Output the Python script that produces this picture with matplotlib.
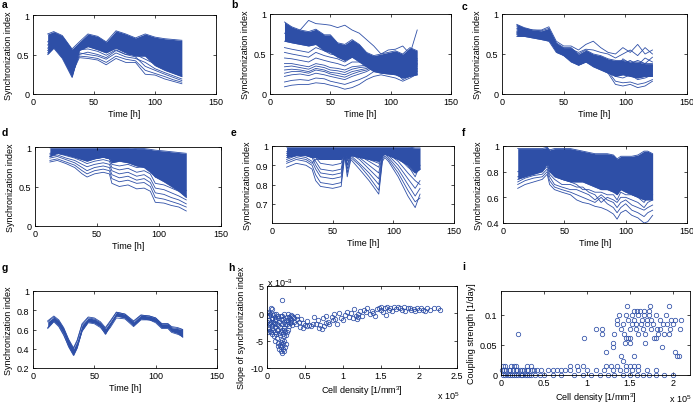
import matplotlib
matplotlib.use('Agg')
import matplotlib.pyplot as plt

plt.rcParams['font.family'] = ['Liberation Sans', 'DejaVu Sans']
plt.rcParams['mathtext.fontset'] = 'custom'
plt.rcParams['mathtext.rm'] = 'Liberation Sans'
plt.rcParams['mathtext.it'] = 'Liberation Sans:italic'
plt.rcParams['mathtext.bf'] = 'Liberation Sans:bold'

BLUE = '#2e4fa7'

# ---------------- panel a ----------------
t_a = [12, 17, 24, 32, 38, 45, 53, 60, 68, 76, 84, 92, 100, 108, 115, 122]
a_hi = [0.76, 0.79, 0.74, 0.57, 0.66, 0.76, 0.73, 0.66, 0.80, 0.76, 0.71, 0.76, 0.72, 0.70, 0.69, 0.68]
a_lo = [0.50, 0.58, 0.45, 0.21, 0.55, 0.60, 0.56, 0.52, 0.58, 0.52, 0.48, 0.48, 0.36, 0.30, 0.26, 0.22]
a_lines = [
    [0.62, 0.70, 0.60, 0.36, 0.52, 0.50, 0.48, 0.44, 0.52, 0.47, 0.45, 0.40, 0.32, 0.27, 0.23, 0.19],
    [0.58, 0.66, 0.55, 0.30, 0.48, 0.47, 0.45, 0.40, 0.48, 0.44, 0.42, 0.30, 0.26, 0.22, 0.18, 0.15],
    [0.55, 0.63, 0.50, 0.26, 0.46, 0.45, 0.43, 0.37, 0.45, 0.40, 0.40, 0.25, 0.24, 0.19, 0.16, 0.13],
    [0.52, 0.61, 0.47, 0.23, 0.50, 0.53, 0.50, 0.46, 0.55, 0.50, 0.47, 0.35, 0.30, 0.25, 0.21, 0.17],
    [0.66, 0.73, 0.64, 0.42, 0.56, 0.57, 0.54, 0.49, 0.56, 0.50, 0.50, 0.44, 0.38, 0.33, 0.29, 0.24],
]

# ---------------- panel b ----------------
t_b = [12, 18, 25, 32, 38, 45, 50, 56, 62, 68, 74, 80, 86, 92, 98, 104, 110, 116, 122]
b_hi = [0.90, 0.84, 0.80, 0.78, 0.81, 0.74, 0.74, 0.64, 0.62, 0.68, 0.62, 0.52, 0.48, 0.50, 0.52, 0.54, 0.50, 0.58, 0.54]
b_lo = [0.66, 0.64, 0.62, 0.60, 0.62, 0.54, 0.52, 0.46, 0.42, 0.46, 0.40, 0.34, 0.28, 0.26, 0.25, 0.24, 0.20, 0.22, 0.24]
b_lines = [
    [0.09, 0.11, 0.12, 0.12, 0.14, 0.13, 0.11, 0.09, 0.06, 0.08, 0.12, 0.18, 0.22, 0.24, 0.22, 0.20, 0.16, 0.20, 0.25],
    [0.15, 0.17, 0.18, 0.17, 0.20, 0.19, 0.16, 0.14, 0.12, 0.15, 0.18, 0.22, 0.28, 0.30, 0.26, 0.28, 0.18, 0.22, 0.28],
    [0.22, 0.24, 0.25, 0.23, 0.26, 0.24, 0.22, 0.20, 0.18, 0.22, 0.25, 0.28, 0.33, 0.34, 0.30, 0.32, 0.24, 0.26, 0.30],
    [0.30, 0.31, 0.30, 0.28, 0.32, 0.30, 0.27, 0.26, 0.24, 0.28, 0.30, 0.32, 0.36, 0.38, 0.34, 0.36, 0.28, 0.30, 0.35],
    [0.38, 0.38, 0.36, 0.34, 0.38, 0.36, 0.33, 0.32, 0.30, 0.34, 0.35, 0.36, 0.38, 0.40, 0.37, 0.40, 0.32, 0.38, 0.40],
    [0.45, 0.44, 0.42, 0.40, 0.45, 0.42, 0.40, 0.38, 0.35, 0.40, 0.40, 0.38, 0.40, 0.42, 0.40, 0.44, 0.36, 0.42, 0.44],
    [0.52, 0.50, 0.48, 0.46, 0.52, 0.48, 0.46, 0.44, 0.40, 0.46, 0.44, 0.40, 0.42, 0.36, 0.42, 0.46, 0.40, 0.46, 0.38],
    [0.58, 0.56, 0.54, 0.52, 0.58, 0.54, 0.50, 0.48, 0.45, 0.52, 0.48, 0.42, 0.30, 0.32, 0.35, 0.42, 0.30, 0.50, 0.42],
    [0.26, 0.28, 0.28, 0.26, 0.30, 0.28, 0.25, 0.23, 0.21, 0.25, 0.28, 0.30, 0.35, 0.30, 0.28, 0.30, 0.22, 0.28, 0.32],
    [0.34, 0.35, 0.33, 0.31, 0.35, 0.33, 0.30, 0.29, 0.27, 0.31, 0.33, 0.34, 0.37, 0.36, 0.32, 0.38, 0.26, 0.34, 0.37],
    [0.76, 0.74, 0.80, 0.92, 0.88, 0.87, 0.86, 0.83, 0.86, 0.80, 0.76, 0.68, 0.60, 0.50, 0.55, 0.56, 0.60, 0.50, 0.80],
]

# ---------------- panel c ----------------
t_c = [12, 18, 25, 32, 38, 44, 50, 56, 62, 68, 74, 80, 86, 92, 98, 104, 110, 116, 122]
c_hi = [0.87, 0.83, 0.80, 0.79, 0.82, 0.64, 0.58, 0.58, 0.50, 0.55, 0.50, 0.48, 0.44, 0.42, 0.42, 0.40, 0.40, 0.38, 0.38]
c_lo = [0.72, 0.72, 0.70, 0.68, 0.66, 0.52, 0.48, 0.40, 0.36, 0.40, 0.34, 0.30, 0.26, 0.22, 0.24, 0.22, 0.20, 0.22, 0.22]
c_lines = [
    [0.86, 0.82, 0.80, 0.80, 0.84, 0.66, 0.60, 0.60, 0.55, 0.62, 0.66, 0.58, 0.52, 0.50, 0.58, 0.52, 0.62, 0.50, 0.55],
    [0.80, 0.80, 0.78, 0.76, 0.80, 0.62, 0.56, 0.56, 0.52, 0.56, 0.55, 0.52, 0.50, 0.45, 0.50, 0.55, 0.48, 0.58, 0.50],
    [0.74, 0.73, 0.71, 0.70, 0.70, 0.55, 0.48, 0.42, 0.36, 0.40, 0.36, 0.32, 0.26, 0.12, 0.10, 0.12, 0.08, 0.10, 0.16],
    [0.76, 0.75, 0.72, 0.71, 0.74, 0.56, 0.50, 0.44, 0.38, 0.42, 0.38, 0.34, 0.28, 0.16, 0.14, 0.15, 0.12, 0.14, 0.18],
    [0.78, 0.76, 0.74, 0.72, 0.76, 0.58, 0.52, 0.46, 0.40, 0.45, 0.40, 0.36, 0.32, 0.22, 0.20, 0.24, 0.18, 0.20, 0.24],
    [0.82, 0.79, 0.76, 0.75, 0.78, 0.60, 0.54, 0.50, 0.44, 0.48, 0.44, 0.40, 0.36, 0.28, 0.26, 0.30, 0.25, 0.28, 0.30],
    [0.84, 0.81, 0.78, 0.77, 0.80, 0.62, 0.56, 0.54, 0.46, 0.52, 0.46, 0.44, 0.40, 0.34, 0.32, 0.36, 0.30, 0.34, 0.35],
    [0.77, 0.77, 0.75, 0.74, 0.72, 0.60, 0.52, 0.50, 0.42, 0.50, 0.48, 0.46, 0.42, 0.38, 0.38, 0.42, 0.36, 0.45, 0.40],
    [0.75, 0.74, 0.73, 0.72, 0.74, 0.54, 0.50, 0.48, 0.40, 0.46, 0.42, 0.42, 0.38, 0.30, 0.44, 0.38, 0.42, 0.38, 0.46],
]

# ---------------- panel d ----------------
t_d = [12, 18, 25, 32, 38, 42, 48, 55, 60, 62, 68, 75, 82, 88, 93, 97, 104, 110, 116, 122]
d_hi = [0.99, 0.99, 0.99, 0.99, 0.99, 0.99, 0.99, 0.99, 0.99, 0.99, 0.99, 0.99, 0.98, 0.98, 0.97, 0.96, 0.95, 0.94, 0.93, 0.92]
d_lo = [0.88, 0.92, 0.90, 0.87, 0.84, 0.82, 0.85, 0.87, 0.85, 0.80, 0.82, 0.80, 0.76, 0.74, 0.68, 0.62, 0.56, 0.50, 0.44, 0.36]
d_lines = [
    [0.81, 0.83, 0.79, 0.74, 0.66, 0.62, 0.66, 0.68, 0.66, 0.54, 0.50, 0.52, 0.47, 0.48, 0.44, 0.30, 0.29, 0.26, 0.24, 0.19],
    [0.83, 0.85, 0.81, 0.77, 0.70, 0.66, 0.70, 0.72, 0.70, 0.60, 0.56, 0.58, 0.54, 0.55, 0.50, 0.36, 0.34, 0.31, 0.28, 0.24],
    [0.86, 0.88, 0.84, 0.80, 0.74, 0.70, 0.74, 0.76, 0.74, 0.65, 0.61, 0.63, 0.58, 0.60, 0.55, 0.42, 0.40, 0.36, 0.33, 0.28],
    [0.88, 0.90, 0.86, 0.83, 0.78, 0.75, 0.78, 0.80, 0.78, 0.70, 0.66, 0.68, 0.63, 0.65, 0.60, 0.48, 0.46, 0.42, 0.38, 0.33],
    [0.90, 0.92, 0.89, 0.86, 0.82, 0.79, 0.82, 0.84, 0.82, 0.74, 0.71, 0.73, 0.68, 0.70, 0.66, 0.54, 0.52, 0.48, 0.44, 0.38],
    [0.92, 0.94, 0.91, 0.88, 0.85, 0.83, 0.85, 0.87, 0.85, 0.78, 0.76, 0.78, 0.74, 0.75, 0.72, 0.62, 0.58, 0.55, 0.50, 0.45],
]

# ---------------- panel e ----------------
t_e = [12, 20, 28, 33, 36, 40, 50, 57, 60, 62, 65, 72, 80, 88, 91, 93, 96, 104, 112, 118, 122]
e_hi = [0.995, 0.995, 0.995, 0.995, 0.995, 0.995, 0.995, 0.995, 0.995, 0.995, 0.995,
        0.995, 0.995, 0.995, 0.995, 0.995, 0.995, 0.995, 0.995, 0.99, 0.99]
e_lo = [0.94, 0.95, 0.95, 0.94, 0.94, 0.93, 0.93, 0.93, 0.96, 0.93, 0.95, 0.94, 0.93, 0.92, 0.95, 0.96, 0.95, 0.93, 0.90, 0.86, 0.88]
e_lines = [
    [0.89, 0.91, 0.90, 0.88, 0.82, 0.79, 0.78, 0.79, 0.95, 0.84, 0.93, 0.88, 0.82, 0.75, 0.92, 0.94, 0.92, 0.84, 0.74, 0.68, 0.75],
    [0.91, 0.93, 0.92, 0.90, 0.85, 0.81, 0.80, 0.81, 0.96, 0.86, 0.94, 0.90, 0.84, 0.77, 0.93, 0.95, 0.93, 0.86, 0.77, 0.71, 0.73],
    [0.93, 0.95, 0.94, 0.92, 0.88, 0.84, 0.83, 0.84, 0.97, 0.88, 0.95, 0.91, 0.86, 0.80, 0.94, 0.96, 0.94, 0.88, 0.80, 0.74, 0.78],
    [0.95, 0.96, 0.95, 0.94, 0.90, 0.86, 0.85, 0.86, 0.97, 0.90, 0.96, 0.93, 0.88, 0.83, 0.95, 0.96, 0.95, 0.90, 0.83, 0.78, 0.82],
    [0.96, 0.97, 0.96, 0.95, 0.92, 0.88, 0.87, 0.88, 0.98, 0.92, 0.97, 0.94, 0.90, 0.86, 0.96, 0.97, 0.96, 0.92, 0.86, 0.82, 0.80],
    [0.97, 0.98, 0.97, 0.96, 0.94, 0.91, 0.90, 0.91, 0.98, 0.94, 0.97, 0.95, 0.92, 0.89, 0.97, 0.97, 0.97, 0.94, 0.89, 0.86, 0.88],
    [0.92, 0.94, 0.93, 0.91, 0.93, 0.93, 0.93, 0.93, 0.97, 0.90, 0.96, 0.95, 0.93, 0.91, 0.96, 0.96, 0.95, 0.93, 0.90, 0.84, 0.90],
]

# ---------------- panel f ----------------
t_f = [12, 18, 25, 32, 36, 38, 42, 48, 55, 60, 65, 70, 75, 80, 85, 90, 93, 96, 100, 105, 110, 115, 118, 122]
f_hi = [0.98, 0.98, 0.98, 0.98, 0.99, 0.97, 0.98, 0.98, 0.98, 0.97, 0.96, 0.95, 0.94, 0.94, 0.94, 0.93, 0.90, 0.92, 0.92, 0.92, 0.93, 0.96, 0.96, 0.94]
f_lo = [0.74, 0.76, 0.78, 0.80, 0.86, 0.80, 0.76, 0.74, 0.72, 0.72, 0.72, 0.70, 0.68, 0.66, 0.66, 0.64, 0.62, 0.66, 0.64, 0.62, 0.60, 0.58, 0.58, 0.58]
f_lines = [
    [0.67, 0.70, 0.72, 0.74, 0.78, 0.70, 0.66, 0.64, 0.62, 0.58, 0.56, 0.55, 0.53, 0.52, 0.50, 0.47, 0.43, 0.48, 0.50, 0.46, 0.44, 0.40, 0.41, 0.46],
    [0.70, 0.73, 0.75, 0.76, 0.80, 0.73, 0.68, 0.66, 0.64, 0.62, 0.60, 0.58, 0.56, 0.60, 0.55, 0.52, 0.48, 0.52, 0.55, 0.50, 0.48, 0.45, 0.48, 0.50],
    [0.72, 0.75, 0.77, 0.78, 0.82, 0.76, 0.70, 0.68, 0.66, 0.66, 0.64, 0.62, 0.58, 0.62, 0.58, 0.56, 0.52, 0.56, 0.58, 0.54, 0.52, 0.50, 0.52, 0.54],
    [0.76, 0.78, 0.80, 0.80, 0.84, 0.78, 0.74, 0.70, 0.70, 0.68, 0.68, 0.64, 0.62, 0.56, 0.60, 0.58, 0.56, 0.60, 0.60, 0.58, 0.56, 0.52, 0.56, 0.58],
    [0.80, 0.82, 0.83, 0.83, 0.86, 0.80, 0.78, 0.74, 0.72, 0.70, 0.66, 0.66, 0.64, 0.64, 0.62, 0.62, 0.58, 0.64, 0.62, 0.62, 0.60, 0.56, 0.60, 0.62],
]

# ---------------- panel g ----------------
t_g = [12, 17, 21, 25, 29, 33, 36, 40, 45, 50, 55, 59, 63, 68, 75, 82, 88, 95, 100, 105, 110, 113, 118, 122]
g_hi = [0.68, 0.73, 0.69, 0.61, 0.49, 0.40, 0.48, 0.65, 0.72, 0.71, 0.67, 0.61, 0.68, 0.78, 0.76, 0.68, 0.75, 0.74, 0.72, 0.66, 0.66, 0.62, 0.61, 0.60]
g_lo = [0.62, 0.69, 0.64, 0.55, 0.42, 0.33, 0.41, 0.59, 0.68, 0.67, 0.63, 0.55, 0.64, 0.74, 0.72, 0.64, 0.71, 0.70, 0.68, 0.62, 0.62, 0.58, 0.56, 0.52]
g_lines = [
    [0.61, 0.68, 0.63, 0.54, 0.43, 0.34, 0.42, 0.58, 0.67, 0.66, 0.62, 0.56, 0.62, 0.72, 0.71, 0.63, 0.70, 0.70, 0.67, 0.61, 0.61, 0.57, 0.55, 0.53],
    [0.69, 0.74, 0.70, 0.62, 0.50, 0.41, 0.49, 0.66, 0.73, 0.72, 0.68, 0.62, 0.69, 0.78, 0.76, 0.69, 0.75, 0.74, 0.72, 0.66, 0.66, 0.63, 0.62, 0.60],
]

# ---------------- panel h (density in 1e5/mm^3, slope in 1e-3) ----------------
h_pts = [
    (0.00, -0.5), (0.00, -1.5), (0.01, -2.5), (0.01, -3.5), (0.01, 0.3), (0.02, -0.5), (0.02, -2.0),
    (0.03, -1.2), (0.03, 0.0), (0.03, -2.8), (0.04, -0.2), (0.04, -1.8), (0.04, -3.2), (0.05, -1.5),
    (0.05, -3.5), (0.05, 0.9), (0.06, -0.8), (0.06, -2.6), (0.06, 0.8), (0.07, -2.2), (0.07, -1.0),
    (0.07, -3.8), (0.08, -0.3), (0.08, -3.0), (0.08, -1.5), (0.09, -1.8), (0.09, -4.2), (0.09, -0.2),
    (0.10, -0.6), (0.10, -2.5), (0.10, -3.4), (0.11, -1.2), (0.11, -5.0), (0.11, -2.0), (0.12, -3.8),
    (0.12, -0.1), (0.12, -1.0), (0.13, -2.0), (0.13, -4.5), (0.13, -3.0), (0.14, -6.0), (0.14, -0.8),
    (0.14, -2.2), (0.15, -3.0), (0.15, -5.5), (0.15, -0.5), (0.16, -1.5), (0.16, -6.5), (0.16, -3.6),
    (0.17, -4.0), (0.17, -2.5), (0.17, -5.8), (0.18, -0.4), (0.18, -5.2), (0.18, -6.8), (0.19, -3.5),
    (0.19, -1.0), (0.19, -6.2), (0.20, -7.2), (0.20, -6.0), (0.20, -4.8), (0.20, -3.0), (0.20, -2.0),
    (0.20, -0.5), (0.20, 2.4), (0.21, -5.5), (0.21, -6.6), (0.21, -3.8), (0.21, -1.0), (0.22, -1.5),
    (0.22, -6.9), (0.22, -4.2), (0.22, -3.0), (0.23, -2.6), (0.23, -5.0), (0.23, -0.2), (0.24, -3.3),
    (0.24, -6.2), (0.24, -2.0), (0.25, -1.2), (0.25, -4.0), (0.25, -5.6), (0.26, -2.0), (0.26, -0.6),
    (0.26, -3.4), (0.27, -3.0), (0.27, -1.2), (0.28, -1.5), (0.28, -0.2), (0.29, -2.4), (0.29, -0.6),
    (0.30, -0.8), (0.30, -1.8), (0.31, -0.3), (0.31, -1.6), (0.32, -1.2), (0.33, -2.2), (0.33, -0.4),
    (0.34, -0.6), (0.35, -1.6), (0.36, -0.9), (0.38, -2.0), (0.39, -1.1), (0.40, -0.4), (0.42, -1.5),
    (0.43, -2.5), (0.45, -1.0), (0.47, -1.8), (0.48, -2.6), (0.50, -2.2), (0.52, -1.4), (0.53, -2.4),
    (0.55, -2.1), (0.58, -2.3), (0.60, -1.9), (0.62, -0.6), (0.65, -2.0), (0.67, -1.2), (0.68, -2.6),
    (0.70, -2.2), (0.72, -2.9), (0.74, -0.9), (0.75, -2.4), (0.77, -1.8), (0.78, -0.4), (0.80, -1.5),
    (0.82, -2.0), (0.85, -0.6), (0.87, -1.2), (0.88, -0.2), (0.90, -1.0), (0.92, -2.0), (0.95, 0.0),
    (0.97, -0.8), (1.00, -1.2), (1.02, -0.3), (1.05, 0.2), (1.08, -0.6), (1.10, 0.1), (1.13, -0.9),
    (1.15, 0.8), (1.17, -0.5), (1.18, -1.0), (1.20, -0.2), (1.20, -0.7), (1.22, 0.4), (1.25, -0.4),
    (1.28, 0.6), (1.30, 0.3), (1.32, 0.9), (1.35, -0.2), (1.38, 0.5), (1.40, 0.1), (1.42, -0.4),
    (1.45, 0.8), (1.47, 1.0), (1.50, 0.6), (1.50, 1.1), (1.52, 0.3), (1.55, 0.9), (1.57, -0.3),
    (1.58, 1.2), (1.60, 0.7), (1.62, 1.0), (1.65, 0.4), (1.67, 1.1), (1.70, 0.8), (1.72, 1.2),
    (1.75, 0.9), (1.77, 0.6), (1.80, 1.1), (1.82, 0.5), (1.85, 0.9), (1.88, 1.0), (1.90, 0.7),
    (1.93, 0.8), (1.95, 0.5), (1.98, 0.9), (2.00, 0.6), (2.02, 1.0), (2.05, 0.7), (2.08, 0.5),
    (2.10, 0.9), (2.15, 0.6), (2.20, 0.9), (2.25, 1.0), (2.28, 0.7),
]

# ---------------- panel i (density in 1e5/mm^3, coupling in 1/day) ----------------
i_x_level0 = [0.02, 0.05, 0.08, 0.10, 0.13, 0.15, 0.18, 0.20, 0.23, 0.25, 0.28, 0.30, 0.33, 0.35, 0.40,
              0.45, 0.50, 0.60, 0.70, 0.85, 0.95, 1.05, 1.15, 1.25, 1.32, 1.42, 1.50, 1.58, 1.65, 1.72,
              1.80, 1.90, 2.00]
i_x_level1 = [0.01, 0.03, 0.06, 0.09, 0.11, 0.14, 0.17, 0.19, 0.22, 0.24, 0.27, 0.30, 0.32, 0.36, 0.38,
              0.42, 0.47, 0.55, 0.60, 0.65, 0.70, 0.75, 0.80, 0.90, 1.00, 1.10, 1.20, 1.30, 1.38, 1.45,
              1.52, 1.60, 1.70, 1.80]
i_x_level2 = [0.02, 0.05, 0.12, 0.15, 0.18, 0.30, 0.35, 0.80, 0.88, 0.95, 1.22, 1.35, 1.45, 1.50, 1.55, 1.60]
i_levels = [0.0, 0.0077, 0.0154]
i_upper = [
    (0.20, 0.069), (0.97, 0.061), (1.10, 0.077), (1.17, 0.077), (1.17, 0.069), (1.22, 0.038),
    (1.28, 0.015), (1.30, 0.046), (1.30, 0.054), (1.32, 0.069), (1.35, 0.085), (1.35, 0.092),
    (1.37, 0.100), (1.40, 0.077), (1.40, 0.031), (1.42, 0.085), (1.42, 0.023), (1.43, 0.069),
    (1.44, 0.054), (1.45, 0.061), (1.46, 0.100), (1.47, 0.115), (1.48, 0.092), (1.48, 0.061),
    (1.50, 0.077), (1.50, 0.062), (1.50, 0.054), (1.52, 0.085), (1.53, 0.100), (1.55, 0.092),
    (1.55, 0.107), (1.55, 0.031), (1.57, 0.085), (1.57, 0.077), (1.58, 0.107), (1.60, 0.100),
    (1.60, 0.069), (1.62, 0.107), (1.63, 0.085), (1.64, 0.092), (1.65, 0.077), (1.66, 0.100),
    (1.67, 0.107), (1.68, 0.054), (1.68, 0.069), (1.70, 0.092), (1.70, 0.085), (1.72, 0.107),
    (1.72, 0.100), (1.73, 0.115), (1.75, 0.092), (1.75, 0.077), (1.77, 0.085), (1.78, 0.061),
    (1.80, 0.061), (1.80, 0.100), (1.82, 0.077), (1.83, 0.069), (1.85, 0.092), (1.85, 0.077),
    (1.87, 0.046), (1.88, 0.085), (1.90, 0.069), (1.92, 0.100), (1.93, 0.085), (1.95, 0.115),
    (1.95, 0.069), (1.97, 0.077), (1.98, 0.092), (2.00, 0.085), (2.02, 0.092), (2.03, 0.038),
    (2.05, 0.031), (2.07, 0.031), (2.08, 0.077), (2.10, 0.092),
]

# ---------------- drawing ----------------
W, H = 693, 406
fig = plt.figure(figsize=(W / 100, H / 100), dpi=100)
FS = 6.5


def px_axes(l, t, r, b):
    return fig.add_axes([l / W, 1 - b / H, (r - l) / W, (b - t) / H])


def style(ax, xlim, ylim, xticks, xtl, yticks, ytl, xlabel, ylabel):
    ax.set_xlim(*xlim)
    ax.set_ylim(*ylim)
    ax.set_xticks(xticks)
    ax.set_xticklabels(xtl)
    ax.set_yticks(yticks)
    ax.set_yticklabels(ytl)
    ax.tick_params(direction='in', length=2.5, width=0.5, top=True, right=True,
                   labelsize=FS, pad=2.5)
    for s in ax.spines.values():
        s.set_linewidth(0.6)
    ax.set_xlabel(xlabel, fontsize=FS, labelpad=2)
    ax.set_ylabel(ylabel, fontsize=FS, labelpad=3)


def draw_time_panel(ax, t, hi, lo, lines):
    ax.fill_between(t, lo, hi, color=BLUE, lw=0)
    ax.plot(t, hi, color=BLUE, lw=0.6)
    ax.plot(t, lo, color=BLUE, lw=0.6)
    for y in lines:
        ax.plot(t, y, color=BLUE, lw=0.6)


time_ticks = [0, 50, 100, 150]
time_tl = ['0', '50', '100', '150']
SI = 'Synchronization index'

ax = px_axes(33, 16, 216, 95)
draw_time_panel(ax, t_a, a_hi, a_lo, a_lines)
style(ax, (0, 150), (0, 1), time_ticks, time_tl, [0, 0.5, 1], ['0', '0.5', '1'], 'Time [h]', SI)

ax = px_axes(270, 15, 451, 95)
draw_time_panel(ax, t_b, b_hi, b_lo, b_lines)
style(ax, (0, 150), (0, 1), time_ticks, time_tl, [0, 0.5, 1], ['0', '0.5', '1'], 'Time [h]', SI)

ax = px_axes(502, 15, 687, 95)
draw_time_panel(ax, t_c, c_hi, c_lo, c_lines)
style(ax, (0, 150), (0, 1), time_ticks, time_tl, [0, 0.5, 1], ['0', '0.5', '1'], 'Time [h]', SI)

ax = px_axes(35, 148, 221, 227)
draw_time_panel(ax, t_d, d_hi, d_lo, d_lines)
style(ax, (0, 150), (0, 1), time_ticks, time_tl, [0, 0.5, 1], ['0', '0.5', '1'], 'Time [h]', SI)

ax = px_axes(272, 147, 454, 224)
draw_time_panel(ax, t_e, e_hi, e_lo, e_lines)
style(ax, (0, 150), (0.6, 1), time_ticks, time_tl, [0.7, 0.8, 0.9, 1],
      ['0.7', '0.8', '0.9', '1'], 'Time [h]', SI)

ax = px_axes(503, 147, 687, 224)
draw_time_panel(ax, t_f, f_hi, f_lo, f_lines)
style(ax, (0, 150), (0.4, 1), time_ticks, time_tl, [0.4, 0.6, 0.8, 1],
      ['0.4', '0.6', '0.8', '1'], 'Time [h]', SI)

ax = px_axes(33, 292, 217, 369)
draw_time_panel(ax, t_g, g_hi, g_lo, g_lines)
style(ax, (0, 150), (0.2, 1), time_ticks, time_tl, [0.2, 0.4, 0.6, 0.8, 1],
      ['0.2', '0.4', '0.6', '0.8', '1'], 'Time [h]', SI)

# panel h
ax = px_axes(267, 287, 457, 369)
h_x = [p[0] for p in h_pts]
h_y = [p[1] for p in h_pts]
ax.plot(h_x, h_y, 'o', ms=3.2, mfc='none', mec=BLUE, mew=0.55)
style(ax, (0, 2.5), (-10, 5), [0, 0.5, 1, 1.5, 2, 2.5], ['0', '0.5', '1', '1.5', '2', '2.5'],
      [-10, -5, 0, 5], ['-10', '-5', '0', '5'], 'Cell density [1/mm$^3$]',
      'Slope of synchronization index')
fig.text(267 / W, 1 - 283 / H, r'x 10$^{-3}$', fontsize=FS, va='center', ha='left')
fig.text(437 / W, 1 - 396 / H, r'x 10$^{5}$', fontsize=FS, va='center', ha='left')

# panel i
ax = px_axes(501, 292, 690, 376)
for lev, xs in zip(i_levels, [i_x_level0, i_x_level1, i_x_level2]):
    ax.plot(xs, [lev] * len(xs), 'o', ms=3.2, mfc='none', mec=BLUE, mew=0.55, clip_on=False)
ax.plot([p[0] for p in i_upper], [p[1] for p in i_upper], 'o', ms=3.2, mfc='none',
        mec=BLUE, mew=0.55)
style(ax, (0, 2.2), (0, 0.14), [0, 0.5, 1, 1.5, 2], ['0', '0.5', '1', '1.5', '2'],
      [0, 0.05, 0.1], ['0', '0.05', '0.1'], 'Cell density [1/mm$^3$]',
      'Coupling strength [1/day]')
fig.text(669 / W, 1 - 399 / H, r'x 10$^{5}$', fontsize=FS, va='center', ha='left')

# panel letters
for letter, (x, y) in zip('abcdefghi', [(2, 0), (231, 0), (462, 2), (2, 128), (231, 128),
                                         (462, 128), (2, 263), (228, 263), (462, 262)]):
    fig.text(x / W, 1 - y / H, letter, fontsize=7.5, fontweight='bold', va='top', ha='left')

fig.savefig('out.png', dpi=100)
